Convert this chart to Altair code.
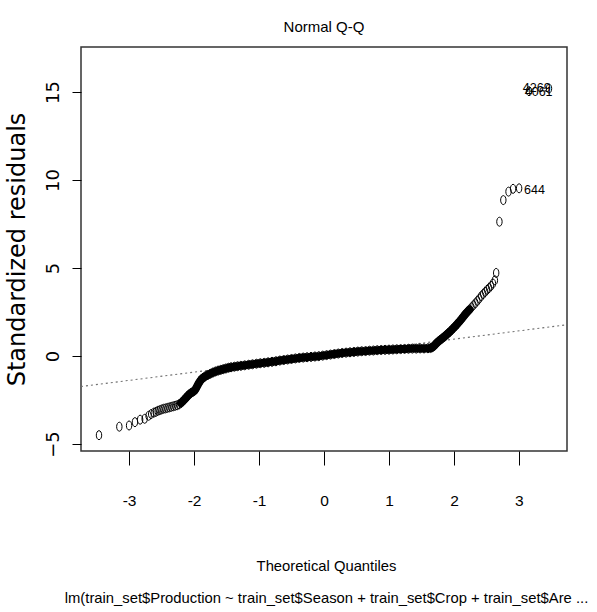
import altair as alt
import pandas as pd

# ---- data ----
qx = [-3.463, -3.15, -3.00, -2.91, -2.83, -2.76, -2.70, -2.66, -2.62, -2.59,
      -2.56, -2.53, -2.50, -2.47, -2.44, -2.41, -2.38, -2.35, -2.32, -2.29,
      -2.26, -2.23, -2.20, -2.17, -2.14, -2.11, -2.08, -2.05, -2.02, -1.99,
      -1.97, -1.95, -1.93, -1.91, -1.89, -1.86, -1.83, -1.79, -1.75, -1.71,
      -1.67, -1.63, -1.59, -1.55, -1.51, -1.47, -1.43, -1.38, -1.33, -1.28,
      -1.22, -1.16, -1.10, -1.04, -0.98, -0.92, -0.86, -0.80, -0.74, -0.68,
      -0.62, -0.56, -0.50, -0.44, -0.38, -0.32, -0.26, -0.20, -0.14, -0.08,
      -0.02, 0.04, 0.10, 0.16, 0.22, 0.28, 0.34, 0.40, 0.46, 0.52,
      0.58, 0.64, 0.70, 0.76, 0.82, 0.88, 0.94, 1.00, 1.06, 1.12,
      1.18, 1.24, 1.30, 1.36, 1.42, 1.48, 1.54, 1.60, 1.64, 1.67,
      1.70, 1.73, 1.76, 1.79, 1.82, 1.85, 1.88, 1.91, 1.94, 1.97,
      2.00, 2.03, 2.06, 2.09, 2.12, 2.15, 2.18, 2.21, 2.24, 2.27,
      2.30, 2.33, 2.36, 2.39, 2.42, 2.45, 2.48, 2.51, 2.54, 2.57,
      2.60, 2.63, 2.65, 2.70, 2.76, 2.84, 2.91, 3.003, 3.155, 3.463]
qy = [-4.50, -4.02, -3.95, -3.76, -3.62, -3.57, -3.40, -3.30, -3.22, -3.18,
      -3.12, -3.08, -3.04, -3.00, -2.98, -2.95, -2.92, -2.89, -2.86, -2.83,
      -2.80, -2.75, -2.67, -2.56, -2.44, -2.32, -2.20, -2.11, -2.04, -1.96,
      -1.84, -1.70, -1.56, -1.44, -1.34, -1.24, -1.16, -1.08, -1.01, -0.94,
      -0.88, -0.83, -0.79, -0.75, -0.71, -0.67, -0.64, -0.61, -0.58, -0.56,
      -0.53, -0.50, -0.47, -0.44, -0.41, -0.39, -0.36, -0.33, -0.30, -0.26,
      -0.23, -0.20, -0.17, -0.14, -0.11, -0.09, -0.07, -0.05, -0.03, -0.01,
      0.02, 0.05, 0.08, 0.11, 0.14, 0.17, 0.19, 0.21, 0.23, 0.25,
      0.27, 0.28, 0.30, 0.31, 0.33, 0.34, 0.35, 0.36, 0.37, 0.38,
      0.39, 0.40, 0.41, 0.42, 0.42, 0.43, 0.43, 0.44, 0.45, 0.50,
      0.60, 0.72, 0.82, 0.92, 1.00, 1.09, 1.19, 1.29, 1.39, 1.50,
      1.62, 1.73, 1.86, 1.98, 2.12, 2.26, 2.40, 2.52, 2.64, 2.76,
      2.88, 3.00, 3.13, 3.26, 3.40, 3.52, 3.64, 3.76, 3.86, 3.98,
      4.12, 4.30, 4.72, 7.63, 8.86, 9.34, 9.50, 9.53, 15.05, 15.20]

lab_text = ["4269", "4061", "644"]
lab_x = [3.06, 3.09, 3.08]
lab_y = [15.22, 15.02, 9.45]

ref_slope = 0.469
ref_intercept = 0.02

x_ticks = [-3, -2, -1, 0, 1, 2, 3]
y_ticks = [-5, 0, 5, 10, 15]
x_domain = [-3.74, 3.74]
y_domain = [-5.4, 17.56]

title_text = "Normal Q-Q"
x_title = ["Theoretical Quantiles",
           "lm(train_set$Production ~ train_set$Season + train_set$Crop + train_set$Are ..."]
y_title = "Standardized residuals"

# ---- tables ----
pts = pd.DataFrame({"qx": qx, "qy": qy})
labs = pd.DataFrame({"qx": lab_x, "qy": lab_y, "txt": lab_text})
ref = pd.DataFrame({"qx": x_domain,
                    "qy": [ref_intercept + ref_slope * v for v in x_domain]})

SANS = "Liberation Sans, Arial, sans-serif"
WIDE = "DejaVu Sans, Verdana, sans-serif"

x_enc = alt.X("qx:Q",
              scale=alt.Scale(domain=x_domain, nice=False, zero=False),
              axis=alt.Axis(values=x_ticks, grid=False, domain=False,
                            tickSize=14, tickColor="black", tickWidth=1,
                            labelFont=SANS, labelFontSize=15.5, labelColor="black",
                            labelBaseline="alphabetic", labelPadding=40.5,
                            labelExpr="datum.value < 0 ? '-' + abs(datum.value) : '' + datum.value",
                            title=x_title, titleFont=SANS, titleFontSize=14.8,
                            titleFontWeight="normal", titleColor="black",
                            titleLineHeight=32, titleBaseline="top",
                            titleAlign="center", titleX=245, titleY=107))
y_enc = alt.Y("qy:Q",
              scale=alt.Scale(domain=y_domain, nice=False, zero=False),
              axis=alt.Axis(values=y_ticks, grid=False, domain=False,
                            tickSize=9, tickColor="black", tickWidth=1,
                            labelFont=WIDE, labelFontSize=18, labelColor="black",
                            labelAngle=270, labelAlign="center",
                            labelBaseline="alphabetic", labelPadding=14,
                            title=y_title, titleFont=WIDE, titleFontSize=24,
                            titleFontWeight="normal", titleColor="black",
                            titleAngle=270, titleAlign="center",
                            titleBaseline="alphabetic", titleX=-57, titleY=202))

ellipse = "M -0.6 0 A 0.6 1 0 1 0 0.6 0 A 0.6 1 0 1 0 -0.6 0 Z"

ref_line = alt.Chart(ref).mark_line(color="#707070", strokeDash=[2, 3],
                                    strokeWidth=1.1, clip=True).encode(x=x_enc, y=y_enc)

band = alt.Chart(pts).transform_filter(
    "datum.qx >= -2.2 && datum.qx <= 2.25"
).mark_line(color="black", strokeWidth=8, strokeCap="round",
            strokeJoin="round").encode(x=x_enc, y=y_enc, order="qx:Q")

points = alt.Chart(pts).mark_point(shape=ellipse, filled=False, color="black",
                                   size=81, strokeWidth=1, opacity=1).encode(x=x_enc, y=y_enc)

labels = alt.Chart(labs).mark_text(align="left", baseline="middle", font=SANS,
                                   fontSize=12.5, color="black").encode(
    x=x_enc, y=y_enc, text="txt:N")

chart = alt.layer(ref_line, band, points, labels).properties(
    width=486, height=404,
    title=alt.TitleParams(title_text, font=SANS, fontSize=15, fontWeight="normal",
                          color="black", anchor="middle", frame="group",
                          baseline="alphabetic", offset=0),
    autosize=alt.AutoSizeParams(type="none"),
    padding={"left": 81, "top": 47, "right": 30, "bottom": 161},
).configure_view(stroke="#333333", strokeWidth=1.5)

chart.save("out.html", embed_options={"renderer": "svg", "actions": False})
